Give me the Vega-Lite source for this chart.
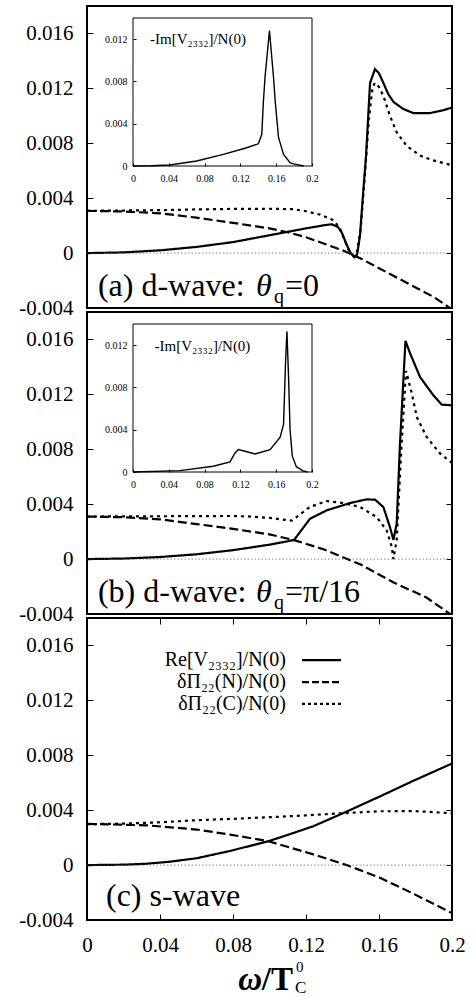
{
  "$schema": "https://vega.github.io/schema/vega-lite/v6.json",
  "padding": {"left": 17, "top": 5, "right": 0, "bottom": 0},
  "autosize": {"type": "pad"},
  "spacing": 4,
  "bounds": "flush",
  "config": {
    "view": {"stroke": "black", "strokeWidth": 2},
    "font": "Liberation Serif, Times New Roman, serif",
    "axis": {"labelFont": "Liberation Serif, Times New Roman, serif", "labelColor": "black", "tickColor": "black", "domain": false, "grid": false, "labelFlush": false},
    "text": {"font": "Liberation Serif, Times New Roman, serif", "color": "black"}
  },
  "datasets": {
    "one": [{}],
    "a_main": [
      {"s":"Re","w":0,"v":0},{"s":"Re","w":0.02,"v":0.00005},{"s":"Re","w":0.04,"v":0.0002},{"s":"Re","w":0.06,"v":0.00045},{"s":"Re","w":0.08,"v":0.0008},{"s":"Re","w":0.1,"v":0.0013},{"s":"Re","w":0.11,"v":0.00155},{"s":"Re","w":0.12,"v":0.0018},{"s":"Re","w":0.13,"v":0.00203},{"s":"Re","w":0.134,"v":0.0021},{"s":"Re","w":0.1375,"v":0.0019},{"s":"Re","w":0.1396,"v":0.0015},{"s":"Re","w":0.1423,"v":0.0006},{"s":"Re","w":0.1445,"v":0.0},{"s":"Re","w":0.1465,"v":-0.0003},{"s":"Re","w":0.148,"v":-0.0001},{"s":"Re","w":0.1496,"v":0.0013},{"s":"Re","w":0.1512,"v":0.0042},{"s":"Re","w":0.1529,"v":0.0071},{"s":"Re","w":0.1551,"v":0.0124},{"s":"Re","w":0.1578,"v":0.0134},{"s":"Re","w":0.16,"v":0.0131},{"s":"Re","w":0.1624,"v":0.0124},{"s":"Re","w":0.165,"v":0.0116},{"s":"Re","w":0.168,"v":0.011},{"s":"Re","w":0.1733,"v":0.0105},{"s":"Re","w":0.1788,"v":0.0102},{"s":"Re","w":0.1879,"v":0.0102},{"s":"Re","w":0.195,"v":0.0104},{"s":"Re","w":0.2,"v":0.0106},
      {"s":"C","w":0,"v":0.00308},{"s":"C","w":0.02,"v":0.0031},{"s":"C","w":0.04,"v":0.00313},{"s":"C","w":0.06,"v":0.00318},{"s":"C","w":0.08,"v":0.00322},{"s":"C","w":0.1,"v":0.00323},{"s":"C","w":0.113,"v":0.0032},{"s":"C","w":0.12,"v":0.00305},{"s":"C","w":0.1277,"v":0.0028},{"s":"C","w":0.135,"v":0.0024},{"s":"C","w":0.1386,"v":0.0018},{"s":"C","w":0.141,"v":0.001},{"s":"C","w":0.1435,"v":0.0002},{"s":"C","w":0.146,"v":-0.0002},{"s":"C","w":0.148,"v":0.0001},{"s":"C","w":0.15,"v":0.0018},{"s":"C","w":0.152,"v":0.0052},{"s":"C","w":0.1545,"v":0.0098},{"s":"C","w":0.1565,"v":0.0121},{"s":"C","w":0.1578,"v":0.0124},{"s":"C","w":0.16,"v":0.0121},{"s":"C","w":0.1624,"v":0.01145},{"s":"C","w":0.166,"v":0.01},{"s":"C","w":0.1697,"v":0.0088},{"s":"C","w":0.1752,"v":0.0078},{"s":"C","w":0.1825,"v":0.0071},{"s":"C","w":0.1898,"v":0.00675},{"s":"C","w":0.2,"v":0.0064},
      {"s":"N","w":0,"v":0.00308},{"s":"N","w":0.02,"v":0.00303},{"s":"N","w":0.04,"v":0.0029},{"s":"N","w":0.06,"v":0.00258},{"s":"N","w":0.08,"v":0.0022},{"s":"N","w":0.1,"v":0.0018},{"s":"N","w":0.11,"v":0.00152},{"s":"N","w":0.12,"v":0.00115},{"s":"N","w":0.13,"v":0.00068},{"s":"N","w":0.14,"v":0.0002},{"s":"N","w":0.15,"v":-0.0004},{"s":"N","w":0.16,"v":-0.0011},{"s":"N","w":0.17,"v":-0.0018},{"s":"N","w":0.18,"v":-0.0025},{"s":"N","w":0.19,"v":-0.0032},{"s":"N","w":0.2,"v":-0.0041}
    ],
    "a_inset": [
      {"w":0,"v":0},{"w":0.02,"v":0.00002},{"w":0.0411,"v":0.0001},{"w":0.0711,"v":0.00047},{"w":0.1009,"v":0.0011},{"w":0.1271,"v":0.00173},{"w":0.1401,"v":0.0021},{"w":0.1439,"v":0.003},{"w":0.1457,"v":0.0061},{"w":0.1476,"v":0.0085},{"w":0.1525,"v":0.0128},{"w":0.157,"v":0.0084},{"w":0.1589,"v":0.0061},{"w":0.1626,"v":0.0027},{"w":0.1682,"v":0.0011},{"w":0.1757,"v":0.0003},{"w":0.1794,"v":0.0002},{"w":0.1906,"v":0}
    ],
    "b_main": [
      {"s":"Re","w":0,"v":0},{"s":"Re","w":0.02,"v":0.00004},{"s":"Re","w":0.04,"v":0.00015},{"s":"Re","w":0.06,"v":0.00035},{"s":"Re","w":0.08,"v":0.00065},{"s":"Re","w":0.1,"v":0.00105},{"s":"Re","w":0.11,"v":0.0013},{"s":"Re","w":0.1135,"v":0.0014},{"s":"Re","w":0.1222,"v":0.00294},{"s":"Re","w":0.1313,"v":0.00355},{"s":"Re","w":0.1441,"v":0.00408},{"s":"Re","w":0.1532,"v":0.00435},{"s":"Re","w":0.1578,"v":0.00433},{"s":"Re","w":0.1624,"v":0.00379},{"s":"Re","w":0.166,"v":0.00233},{"s":"Re","w":0.1679,"v":0.0014},{"s":"Re","w":0.1697,"v":0.0026},{"s":"Re","w":0.1715,"v":0.0084},{"s":"Re","w":0.1745,"v":0.0159},{"s":"Re","w":0.177,"v":0.015},{"s":"Re","w":0.1825,"v":0.01326},{"s":"Re","w":0.1898,"v":0.01193},{"s":"Re","w":0.1944,"v":0.01125},{"s":"Re","w":0.2,"v":0.0112},
      {"s":"C","w":0,"v":0.0031},{"s":"C","w":0.04,"v":0.00312},{"s":"C","w":0.08,"v":0.00314},{"s":"C","w":0.09,"v":0.0031},{"s":"C","w":0.1,"v":0.003},{"s":"C","w":0.1122,"v":0.0028},{"s":"C","w":0.1222,"v":0.0038},{"s":"C","w":0.1313,"v":0.00423},{"s":"C","w":0.1405,"v":0.00408},{"s":"C","w":0.1496,"v":0.0038},{"s":"C","w":0.1587,"v":0.00306},{"s":"C","w":0.1642,"v":0.0021},{"s":"C","w":0.167,"v":0.0009},{"s":"C","w":0.1679,"v":0.0},{"s":"C","w":0.1697,"v":0.0014},{"s":"C","w":0.1724,"v":0.0084},{"s":"C","w":0.1748,"v":0.0137},{"s":"C","w":0.178,"v":0.01205},{"s":"C","w":0.1807,"v":0.01035},{"s":"C","w":0.1861,"v":0.0089},{"s":"C","w":0.1934,"v":0.0077},{"s":"C","w":0.2,"v":0.007},
      {"s":"N","w":0,"v":0.0031},{"s":"N","w":0.02,"v":0.00305},{"s":"N","w":0.04,"v":0.0029},{"s":"N","w":0.06,"v":0.00255},{"s":"N","w":0.08,"v":0.0022},{"s":"N","w":0.1,"v":0.0018},{"s":"N","w":0.113,"v":0.0014},{"s":"N","w":0.13,"v":0.0007},{"s":"N","w":0.15,"v":-0.0004},{"s":"N","w":0.168,"v":-0.0017},{"s":"N","w":0.186,"v":-0.0028},{"s":"N","w":0.2,"v":-0.0041}
    ],
    "b_inset": [
      {"w":0,"v":0},{"w":0.0523,"v":0.00013},{"w":0.0897,"v":0.00054},{"w":0.1084,"v":0.00095},{"w":0.114,"v":0.0018},{"w":0.1177,"v":0.00212},{"w":0.1252,"v":0.00196},{"w":0.1364,"v":0.0017},{"w":0.1532,"v":0.00212},{"w":0.1644,"v":0.0033},{"w":0.1682,"v":0.0045},{"w":0.1705,"v":0.0105},{"w":0.172,"v":0.0133},{"w":0.1738,"v":0.009},{"w":0.1755,"v":0.004},{"w":0.178,"v":0.0015},{"w":0.1825,"v":0.0005},{"w":0.19,"v":0.0001},{"w":0.195,"v":0}
    ],
    "c_main": [
      {"s":"Re","w":0,"v":0},{"s":"Re","w":0.02,"v":0.00003},{"s":"Re","w":0.0327,"v":0.0001},{"s":"Re","w":0.045,"v":0.00024},{"s":"Re","w":0.0601,"v":0.0005},{"s":"Re","w":0.0784,"v":0.00103},{"s":"Re","w":0.0994,"v":0.00174},{"s":"Re","w":0.11,"v":0.0022},{"s":"Re","w":0.124,"v":0.00283},{"s":"Re","w":0.1423,"v":0.0039},{"s":"Re","w":0.1605,"v":0.005},{"s":"Re","w":0.1788,"v":0.00614},{"s":"Re","w":0.2,"v":0.0074},
      {"s":"C","w":0,"v":0.00298},{"s":"C","w":0.02,"v":0.00302},{"s":"C","w":0.04,"v":0.00312},{"s":"C","w":0.06,"v":0.00327},{"s":"C","w":0.08,"v":0.00337},{"s":"C","w":0.1,"v":0.00349},{"s":"C","w":0.12,"v":0.00362},{"s":"C","w":0.14,"v":0.00378},{"s":"C","w":0.16,"v":0.00392},{"s":"C","w":0.18,"v":0.00393},{"s":"C","w":0.2,"v":0.00378},
      {"s":"N","w":0,"v":0.003},{"s":"N","w":0.0327,"v":0.0029},{"s":"N","w":0.0601,"v":0.00259},{"s":"N","w":0.0784,"v":0.00222},{"s":"N","w":0.0994,"v":0.00174},{"s":"N","w":0.124,"v":0.00078},{"s":"N","w":0.1423,"v":0.0},{"s":"N","w":0.1605,"v":-0.00092},{"s":"N","w":0.1788,"v":-0.00208},{"s":"N","w":0.2,"v":-0.0035}
    ]
  },
  "vconcat": [
    {
      "width": 365, "height": 302,
      "layer": [
        {
          "layer": [
            {
              "data": {"name": "a_main"},
              "mark": {"type": "line", "color": "black", "strokeWidth": 2.2, "clip": true},
              "encoding": {
                "x": {"field": "w", "type": "quantitative", "scale": {"domain": [0, 0.2], "nice": false, "zero": false}, "axis": null},
                "y": {"field": "v", "type": "quantitative", "scale": {"domain": [-0.004, 0.018], "nice": false, "zero": false},
                      "axis": {"orient": "left", "values": [-0.004, 0, 0.004, 0.008, 0.012, 0.016], "format": "~g", "labelExpr": "replace(datum.label, '−', '-')", "tickSize": -6, "labelPadding": 20, "labelFontSize": 21, "title": null}},
                "strokeDash": {"field": "s", "type": "nominal", "scale": {"domain": ["Re", "N", "C"], "range": [[1, 0], [9, 4], [3, 4]]}, "legend": null}
              }
            },
            {
              "data": {"name": "one"},
              "mark": {"type": "rule", "color": "#555", "strokeWidth": 0.7, "strokeDash": [1.5, 2]},
              "encoding": {"y": {"datum": 0, "type": "quantitative", "axis": {"orient": "right", "values": [-0.004, 0, 0.004, 0.008, 0.012, 0.016], "labels": false, "tickSize": -6, "title": null}}}
            },
            {
              "data": {"name": "one"},
              "mark": {"type": "text", "align": "left", "baseline": "alphabetic", "fontSize": 32},
              "encoding": {"x": {"datum": 0.006, "type": "quantitative", "axis": null}, "y": {"datum": -0.00315, "type": "quantitative", "axis": null}, "text": {"value": "(a) d-wave:"}}
            },
            {
              "data": {"name": "one"},
              "mark": {"type": "text", "align": "left", "baseline": "alphabetic", "fontSize": 32, "fontStyle": "italic", "dx": 158},
              "encoding": {"x": {"datum": 0.006, "type": "quantitative", "axis": null}, "y": {"datum": -0.00315, "type": "quantitative", "axis": null}, "text": {"value": "θ"}}
            },
            {
              "data": {"name": "one"},
              "mark": {"type": "text", "align": "left", "baseline": "alphabetic", "fontSize": 20, "dx": 176, "dy": 7},
              "encoding": {"x": {"datum": 0.006, "type": "quantitative", "axis": null}, "y": {"datum": -0.00315, "type": "quantitative", "axis": null}, "text": {"value": "q"}}
            },
            {
              "data": {"name": "one"},
              "mark": {"type": "text", "align": "left", "baseline": "alphabetic", "fontSize": 32, "dx": 187},
              "encoding": {"x": {"datum": 0.006, "type": "quantitative", "axis": null}, "y": {"datum": -0.00315, "type": "quantitative", "axis": null}, "text": {"value": "=0"}}
            }
          ],
          "resolve": {"axis": {"x": "independent", "y": "independent"}}
        },
        {
          "layer": [
            {
              "data": {"name": "one"},
              "mark": {"type": "rect", "fill": null, "stroke": "black", "strokeWidth": 1},
              "encoding": {
                "x": {"datum": 0, "type": "quantitative", "scale": {"domain": [0, 0.2], "range": [46, 225], "nice": false, "zero": false}},
                "x2": {"datum": 0.2},
                "y": {"datum": 0, "type": "quantitative", "scale": {"domain": [0, 0.014], "range": [160, 12], "nice": false, "zero": false}},
                "y2": {"datum": 0.014}
              }
            },
            {
              "data": {"name": "a_inset"},
              "mark": {"type": "line", "color": "black", "strokeWidth": 1.4},
              "encoding": {
                "x": {"field": "w", "type": "quantitative", "scale": {"domain": [0, 0.2], "range": [46, 225], "nice": false, "zero": false},
                      "axis": {"orient": "bottom", "offset": -142, "values": [0, 0.04, 0.08, 0.12, 0.16, 0.2], "format": "~g", "tickSize": -3, "labelPadding": 10, "labelFontSize": 10, "title": null}},
                "y": {"field": "v", "type": "quantitative", "scale": {"domain": [0, 0.014], "range": [160, 12], "nice": false, "zero": false},
                      "axis": {"orient": "left", "offset": -46, "values": [0, 0.004, 0.008, 0.012], "format": "~g", "tickSize": -3, "labelPadding": 9, "labelFontSize": 10, "title": null}}
              }
            },
            {
              "data": {"name": "one"},
              "mark": {"type": "text", "align": "left", "baseline": "alphabetic", "fontSize": 15},
              "encoding": {"x": {"datum": 0.019, "type": "quantitative"}, "y": {"datum": 0.01155, "type": "quantitative"}, "text": {"value": "-Im[V₂₃₃₂]/N(0)"}}
            }
          ]
        }
      ],
      "resolve": {"scale": {"x": "independent", "y": "independent"}}
    },
    {
      "width": 365, "height": 302,
      "layer": [
        {
          "layer": [
            {
              "data": {"name": "b_main"},
              "mark": {"type": "line", "color": "black", "strokeWidth": 2.2, "clip": true},
              "encoding": {
                "x": {"field": "w", "type": "quantitative", "scale": {"domain": [0, 0.2], "nice": false, "zero": false}, "axis": null},
                "y": {"field": "v", "type": "quantitative", "scale": {"domain": [-0.004, 0.018], "nice": false, "zero": false},
                      "axis": {"orient": "left", "values": [-0.004, 0, 0.004, 0.008, 0.012, 0.016], "format": "~g", "labelExpr": "replace(datum.label, '−', '-')", "tickSize": -6, "labelPadding": 20, "labelFontSize": 21, "title": null}},
                "strokeDash": {"field": "s", "type": "nominal", "scale": {"domain": ["Re", "N", "C"], "range": [[1, 0], [9, 4], [3, 4]]}, "legend": null}
              }
            },
            {
              "data": {"name": "one"},
              "mark": {"type": "rule", "color": "#555", "strokeWidth": 0.7, "strokeDash": [1.5, 2]},
              "encoding": {"y": {"datum": 0, "type": "quantitative", "axis": {"orient": "right", "values": [-0.004, 0, 0.004, 0.008, 0.012, 0.016], "labels": false, "tickSize": -6, "title": null}}}
            },
            {
              "data": {"name": "one"},
              "mark": {"type": "text", "align": "left", "baseline": "alphabetic", "fontSize": 32},
              "encoding": {"x": {"datum": 0.006, "type": "quantitative", "axis": null}, "y": {"datum": -0.00313, "type": "quantitative", "axis": null}, "text": {"value": "(b) d-wave:"}}
            },
            {
              "data": {"name": "one"},
              "mark": {"type": "text", "align": "left", "baseline": "alphabetic", "fontSize": 32, "fontStyle": "italic", "dx": 158},
              "encoding": {"x": {"datum": 0.006, "type": "quantitative", "axis": null}, "y": {"datum": -0.00313, "type": "quantitative", "axis": null}, "text": {"value": "θ"}}
            },
            {
              "data": {"name": "one"},
              "mark": {"type": "text", "align": "left", "baseline": "alphabetic", "fontSize": 20, "dx": 176, "dy": 7},
              "encoding": {"x": {"datum": 0.006, "type": "quantitative", "axis": null}, "y": {"datum": -0.00313, "type": "quantitative", "axis": null}, "text": {"value": "q"}}
            },
            {
              "data": {"name": "one"},
              "mark": {"type": "text", "align": "left", "baseline": "alphabetic", "fontSize": 32, "dx": 187},
              "encoding": {"x": {"datum": 0.006, "type": "quantitative", "axis": null}, "y": {"datum": -0.00313, "type": "quantitative", "axis": null}, "text": {"value": "=π/16"}}
            }
          ],
          "resolve": {"axis": {"x": "independent", "y": "independent"}}
        },
        {
          "layer": [
            {
              "data": {"name": "one"},
              "mark": {"type": "rect", "fill": null, "stroke": "black", "strokeWidth": 1},
              "encoding": {
                "x": {"datum": 0, "type": "quantitative", "scale": {"domain": [0, 0.2], "range": [46, 225], "nice": false, "zero": false}},
                "x2": {"datum": 0.2},
                "y": {"datum": 0, "type": "quantitative", "scale": {"domain": [0, 0.014], "range": [160, 12], "nice": false, "zero": false}},
                "y2": {"datum": 0.014}
              }
            },
            {
              "data": {"name": "b_inset"},
              "mark": {"type": "line", "color": "black", "strokeWidth": 1.4},
              "encoding": {
                "x": {"field": "w", "type": "quantitative", "scale": {"domain": [0, 0.2], "range": [46, 225], "nice": false, "zero": false},
                      "axis": {"orient": "bottom", "offset": -142, "values": [0, 0.04, 0.08, 0.12, 0.16, 0.2], "format": "~g", "tickSize": -3, "labelPadding": 10, "labelFontSize": 10, "title": null}},
                "y": {"field": "v", "type": "quantitative", "scale": {"domain": [0, 0.014], "range": [160, 12], "nice": false, "zero": false},
                      "axis": {"orient": "left", "offset": -46, "values": [0, 0.004, 0.008, 0.012], "format": "~g", "tickSize": -3, "labelPadding": 9, "labelFontSize": 10, "title": null}}
              }
            },
            {
              "data": {"name": "one"},
              "mark": {"type": "text", "align": "left", "baseline": "alphabetic", "fontSize": 15},
              "encoding": {"x": {"datum": 0.024, "type": "quantitative"}, "y": {"datum": 0.01143, "type": "quantitative"}, "text": {"value": "-Im[V₂₃₃₂]/N(0)"}}
            }
          ]
        }
      ],
      "resolve": {"scale": {"x": "independent", "y": "independent"}}
    },
    {
      "width": 365, "height": 302,
      "layer": [
        {
          "data": {"name": "c_main"},
          "mark": {"type": "line", "color": "black", "strokeWidth": 2.2, "clip": true},
          "encoding": {
            "x": {"field": "w", "type": "quantitative", "scale": {"domain": [0, 0.2], "nice": false, "zero": false},
                  "axis": {"orient": "bottom", "values": [0, 0.04, 0.08, 0.12, 0.16, 0.2], "format": "~g", "tickSize": -6, "labelPadding": 20, "labelFontSize": 21, "title": null}},
            "y": {"field": "v", "type": "quantitative", "scale": {"domain": [-0.004, 0.018], "nice": false, "zero": false},
                  "axis": {"orient": "left", "values": [-0.004, 0, 0.004, 0.008, 0.012, 0.016], "format": "~g", "labelExpr": "replace(datum.label, '−', '-')", "tickSize": -6, "labelPadding": 20, "labelFontSize": 21, "title": null}},
            "strokeDash": {"field": "s", "type": "nominal", "scale": {"domain": ["Re", "N", "C"], "range": [[1, 0], [9, 4], [3, 4]]}, "legend": null}
          }
        },
        {
          "data": {"name": "one"},
          "mark": {"type": "rule", "color": "#555", "strokeWidth": 0.7, "strokeDash": [1.5, 2]},
          "encoding": {"y": {"datum": 0, "type": "quantitative", "axis": {"orient": "right", "values": [-0.004, 0, 0.004, 0.008, 0.012, 0.016], "labels": false, "tickSize": -6, "title": null}}}
        },
        {
          "data": {"name": "one"},
          "mark": {"type": "rule", "opacity": 0},
          "encoding": {"x": {"datum": 0, "type": "quantitative", "axis": {"orient": "top", "values": [0, 0.04, 0.08, 0.12, 0.16, 0.2], "labels": false, "tickSize": -6, "title": null}}}
        },
        {
          "data": {"name": "one"},
          "mark": {"type": "text", "align": "left", "baseline": "alphabetic", "fontSize": 32},
          "encoding": {"x": {"datum": 0.0104, "type": "quantitative", "axis": null}, "y": {"datum": -0.00297, "type": "quantitative", "axis": null}, "text": {"value": "(c) s-wave"}}
        },
        {
          "data": {"name": "one"},
          "mark": {"type": "text", "align": "right", "baseline": "middle", "fontSize": 20},
          "encoding": {"x": {"datum": 0.109, "type": "quantitative", "axis": null}, "y": {"datum": 0.01493, "type": "quantitative", "axis": null}, "text": {"value": "Re[V₂₃₃₂]/N(0)"}}
        },
        {
          "data": {"name": "one"},
          "mark": {"type": "text", "align": "right", "baseline": "middle", "fontSize": 20},
          "encoding": {"x": {"datum": 0.109, "type": "quantitative", "axis": null}, "y": {"datum": 0.01333, "type": "quantitative", "axis": null}, "text": {"value": "δΠ₂₂(N)/N(0)"}}
        },
        {
          "data": {"name": "one"},
          "mark": {"type": "text", "align": "right", "baseline": "middle", "fontSize": 20},
          "encoding": {"x": {"datum": 0.109, "type": "quantitative", "axis": null}, "y": {"datum": 0.01174, "type": "quantitative", "axis": null}, "text": {"value": "δΠ₂₂(C)/N(0)"}}
        },
        {
          "data": {"name": "one"},
          "mark": {"type": "rule", "color": "black", "strokeWidth": 2.2},
          "encoding": {"x": {"datum": 0.1178, "type": "quantitative", "axis": null}, "x2": {"datum": 0.1392}, "y": {"datum": 0.01493, "type": "quantitative", "axis": null}}
        },
        {
          "data": {"name": "one"},
          "mark": {"type": "rule", "color": "black", "strokeWidth": 2.2, "strokeDash": [7, 3]},
          "encoding": {"x": {"datum": 0.1178, "type": "quantitative", "axis": null}, "x2": {"datum": 0.1392}, "y": {"datum": 0.01333, "type": "quantitative", "axis": null}}
        },
        {
          "data": {"name": "one"},
          "mark": {"type": "rule", "color": "black", "strokeWidth": 2.2, "strokeDash": [3, 3]},
          "encoding": {"x": {"datum": 0.1178, "type": "quantitative", "axis": null}, "x2": {"datum": 0.1392}, "y": {"datum": 0.01174, "type": "quantitative", "axis": null}}
        },
        {
          "data": {"name": "one"},
          "mark": {"type": "text", "align": "right", "baseline": "alphabetic", "fontSize": 33, "fontWeight": "bold"},
          "encoding": {"x": {"datum": 0.1129, "type": "quantitative", "axis": null}, "y": {"datum": -0.00913, "type": "quantitative", "axis": null}, "text": {"value": "/T"}}
        },
        {
          "data": {"name": "one"},
          "mark": {"type": "text", "align": "right", "baseline": "alphabetic", "fontSize": 33, "fontWeight": "bold", "fontStyle": "italic", "dx": -31},
          "encoding": {"x": {"datum": 0.1129, "type": "quantitative", "axis": null}, "y": {"datum": -0.00913, "type": "quantitative", "axis": null}, "text": {"value": "ω"}}
        },
        {
          "data": {"name": "one"},
          "mark": {"type": "text", "align": "left", "baseline": "alphabetic", "fontSize": 15, "dx": 3, "dy": -18},
          "encoding": {"x": {"datum": 0.1129, "type": "quantitative", "axis": null}, "y": {"datum": -0.00913, "type": "quantitative", "axis": null}, "text": {"value": "0"}}
        },
        {
          "data": {"name": "one"},
          "mark": {"type": "text", "align": "left", "baseline": "alphabetic", "fontSize": 17, "dx": 2, "dy": 3},
          "encoding": {"x": {"datum": 0.1129, "type": "quantitative", "axis": null}, "y": {"datum": -0.00913, "type": "quantitative", "axis": null}, "text": {"value": "C"}}
        }
      ],
      "resolve": {"axis": {"x": "independent", "y": "independent"}}
    }
  ]
}
